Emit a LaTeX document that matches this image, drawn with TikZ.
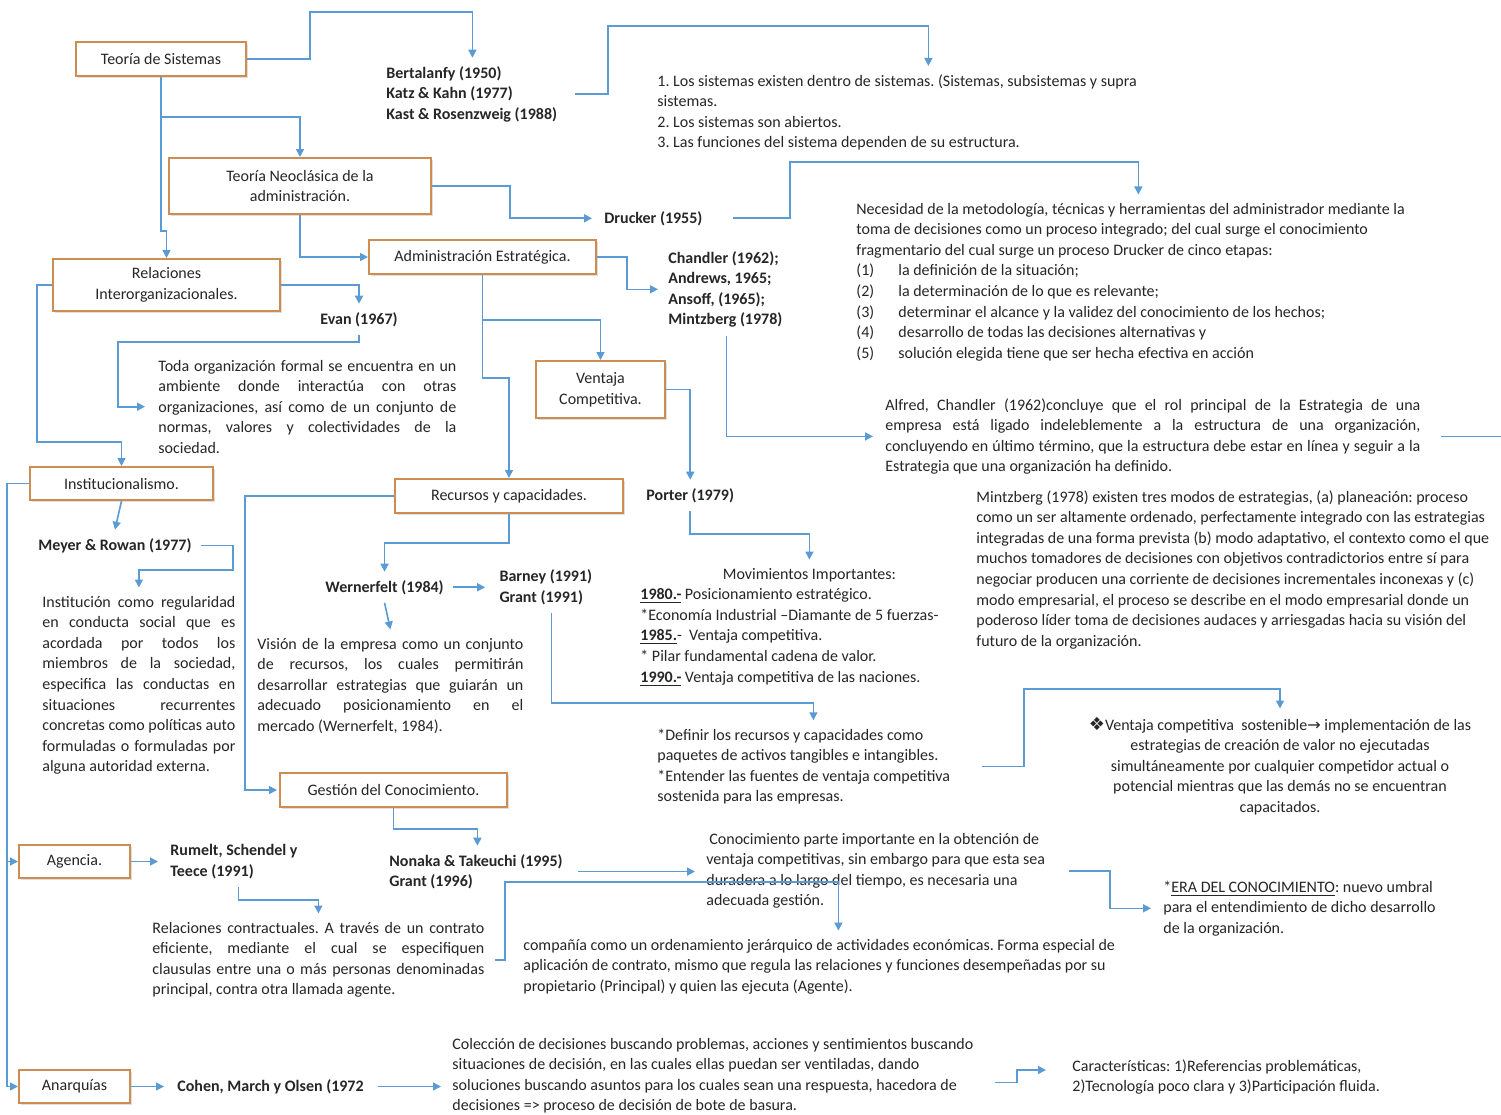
\documentclass[tikz,border=0pt]{standalone}
\usepackage{fontspec}
\setmainfont{Carlito}
\newfontfamily\simbolos{DejaVu Sans}
\usetikzlibrary{positioning,arrows.meta,shadows}
\frenchspacing

\definecolor{azul}{RGB}{91,155,213}
\definecolor{naranja}{RGB}{204,140,82}
\definecolor{tinta}{RGB}{38,38,38}

\newcommand{\letra}{\fontsize{8}{10.3}\selectfont}
\newcommand{\jl}[1]{\makebox[\hsize][s]{\spaceskip=0pt\xspaceskip=0pt #1}\\}

\tikzset{
	caja/.style={draw=naranja, line width=1pt, fill=white, align=flush center, inner sep=2pt,
		font=\letra, text=tinta,
		drop shadow={shadow xshift=0.8pt, shadow yshift=-0.8pt, opacity=0.25}},
	autor/.style={font=\letra\bfseries, text=tinta, align=flush left, inner xsep=0pt, inner ysep=4pt},
	texto/.style={font=\letra, text=tinta, align=flush left, inner xsep=0pt, inner ysep=4pt, anchor=base west},
	link/.style={draw=azul, line width=0.8pt, -{Triangle[length=4pt,width=4pt]}},
	linea/.style={draw=azul, line width=0.8pt},
}

\begin{document}
\begin{tikzpicture}[x=0.5pt, y=-0.5pt]
	\fill[white] (0,0) rectangle (1501,1115);
	\useasboundingbox (0,0) rectangle (1501,1115);
	%% cajas
	\node[caja, minimum width=85pt, minimum height=17pt] (sis) at (161,59) {Teoría de Sistemas};
	\node[caja, minimum width=131pt, minimum height=28pt] (neo) at (300,186) {Teoría Neoclásica de la\\administración.};
	\node[caja, minimum width=113.5pt, minimum height=17pt] (adm) at (482.5,257) {Administración Estratégica.};
	\node[caja, minimum width=113.5pt, minimum height=26pt] (rel) at (166.5,285) {Relaciones\\Interorganizacionales.};
	\node[caja, minimum width=64.5pt, minimum height=28.5pt] (ven) at (600.5,389.5) {Ventaja\\Competitiva.};
	\node[caja, minimum width=91.5pt, minimum height=16.5pt] (ins) at (121.5,483.5) {Institucionalismo.};
	\node[caja, minimum width=114pt, minimum height=17pt] (rec) at (509,496) {Recursos y capacidades.};
	\node[caja, minimum width=113.5pt, minimum height=17pt] (ges) at (393.5,790) {Gestión del Conocimiento.};
	\node[caja, minimum width=55.5pt, minimum height=16.5pt] (age) at (74.5,861.5) {Agencia.};
	\node[caja, minimum width=55.5pt, minimum height=16.5pt] (ana) at (74.5,1086.5) {Anarquías};

	%% autores
	\node[autor, text width=86pt, anchor=base west] (bert) at (386,78) {Bertalanfy (1950)\\Katz \& Kahn (1977)\\Kast \& Rosenzweig (1988)};
	\node[autor, anchor=base west] (dru) at (604,223) {Drucker (1955)};
	\node[autor, text width=58pt, anchor=base west] (cha) at (668,263) {Chandler (1962);\\Andrews, 1965;\\Ansoff, (1965);\\Mintzberg (1978)};
	\node[autor, anchor=base west] (eva) at (320,324) {Evan (1967)};
	\node[autor, anchor=base west] (por) at (646,500) {Porter (1979)};
	\node[autor, anchor=base west] (mey) at (38,550) {Meyer \& Rowan (1977)};
	\node[autor, anchor=base west] (wer) at (325,592) {Wernerfelt (1984)};
	\node[autor, text width=52pt, right=27.5pt of wer] (bar) {Barney (1991)\\Grant (1991)};
	\node[autor, text width=68pt, right=19.5pt of age] (rum) {Rumelt, Schendel y\\Teece (1991)};
	\node[autor, text width=88pt, anchor=base west] (non) at (389,866) {Nonaka \& Takeuchi (1995)\\Grant (1996)};
	\node[autor, right=23pt of ana] (coh) {Cohen, March y Olsen (1972};

	%% textos
	\node[texto, text width=271pt] (lst) at (657,86) {1. Los sistemas existen dentro de sistemas. (Sistemas, subsistemas y supra\\sistemas.\\2. Los sistemas son abiertos.\\3. Las funciones del sistema dependen de su estructura.};
	\node[texto, text width=282pt] (nec) at (856,214) {Necesidad de la metodología, técnicas y herramientas del administrador mediante la\\
		toma de decisiones como un proceso integrado; del cual surge el conocimiento\\
		fragmentario del cual surge un proceso Drucker de cinco etapas:\\
		\makebox[21pt][l]{(1)}la definición de la situación;\\
		\makebox[21pt][l]{(2)}la determinación de lo que es relevante;\\
		\makebox[21pt][l]{(3)}determinar el alcance y la validez del conocimiento de los hechos;\\
		\makebox[21pt][l]{(4)}desarrollo de todas las decisiones alternativas y\\
		\makebox[21pt][l]{(5)}solución elegida tiene que ser hecha efectiva en acción};
	\node[texto, text width=149pt] (tod) at (158,371) {\jl{Toda organización formal se encuentra en un}
		\jl{ambiente donde interactúa con otras}
		\jl{organizaciones, así como de un conjunto de}
		\jl{normas, valores y colectividades de la}
		sociedad.};
	\node[texto, text width=267.5pt] (alf) at (885,410) {\jl{Alfred, Chandler (1962)concluye que el rol principal de la Estrategia de una}
		\jl{empresa está ligado indeleblemente a la estructura de una organización,}
		\jl{concluyendo en último término, que la estructura debe estar en línea y seguir a la}
		Estrategia que una organización ha definido.};
	\node[texto, text width=262pt] (min) at (976,502) {Mintzberg (1978) existen tres modos de estrategias, (a) planeación: proceso\\
		como un ser altamente ordenado, perfectamente integrado con las estrategias\\
		integradas de una forma prevista (b) modo adaptativo, el contexto como el que\\
		muchos tomadores de decisiones con objetivos contradictorios entre sí para\\
		negociar producen una corriente de decisiones incrementales inconexas y (c)\\
		modo empresarial, el proceso se describe en el modo empresarial donde un\\
		poderoso líder toma de decisiones audaces y arriesgadas hacia su visión del\\
		futuro de la organización.};
	\node[texto, text width=96.5pt] (itx) at (42,607) {\jl{Institución como regularidad}
		\jl{en conducta social que es}
		\jl{acordada por todos los}
		\jl{miembros de la sociedad,}
		\jl{especifica las conductas en}
		\jl{situaciones recurrentes}
		\jl{concretas como políticas auto}
		\jl{formuladas o formuladas por}
		alguna autoridad externa.};
	\node[texto, text width=169pt] (mov) at (640,579) {\makebox[\hsize]{Movimientos Importantes:}\\
		\underline{\textbf{1980.-}} Posicionamiento estratégico.\\
		{*}Economía Industrial –Diamante de 5 fuerzas-\\
		\underline{\textbf{1985.}}- \ Ventaja competitiva.\\
		{*} Pilar fundamental cadena de valor.\\
		\underline{\textbf{1990.-}} Ventaja competitiva de las naciones.};
	\node[texto, text width=133pt] (vis) at (257,649) {\jl{Visión de la empresa como un conjunto}
		\jl{de recursos, los cuales permitirán}
		\jl{desarrollar estrategias que guiarán un}
		\jl{adecuado posicionamiento en el}
		mercado (Wernerfelt, 1984).};
	\node[texto, text width=156pt] (def) at (657,740) {*Definir los recursos y capacidades como\\
		paquetes de activos tangibles e intangibles.\\
		{*}Entender las fuentes de ventaja competitiva\\
		sostenida para las empresas.};
	\node[texto, text width=200pt, align=flush center, anchor=base] (sos) at (1280,730) {{\simbolos\small ❖}Ventaja competitiva \ sostenible{\simbolos →} implementación de las\\
		estrategias de creación de valor no ejecutadas\\
		simultáneamente por cualquier competidor actual o\\
		potencial mientras que las demás no se encuentran\\
		capacitados.};
	\node[texto, text width=175pt] (con) at (706,844) {\hspace*{1.5pt}Conocimiento parte importante en la obtención de\\
		ventaja competitivas, sin embargo para que esta sea\\
		duradera a lo largo del tiempo, es necesaria una\\
		adecuada gestión.};
	\node[texto, text width=150pt] (era) at (1163,892) {*\underline{ERA DEL CONOCIMIENTO}: nuevo umbral\\
		para el entendimiento de dicho desarrollo\\
		de la organización.};
	\node[texto, text width=166pt] (rct) at (152,933) {\jl{Relaciones contractuales. A través de un contrato}
		\jl{eficiente, mediante el cual se especifiquen}
		\jl{clausulas entre una o más personas denominadas}
		principal, contra otra llamada agente.};
	\node[texto, text width=315pt] (cmp) at (523,950) {compañía como un ordenamiento jerárquico de actividades económicas. Forma especial de\\
		aplicación de contrato, mismo que regula las relaciones y funciones desempeñadas por su\\
		propietario (Principal) y quien las ejecuta (Agente).};
	\node[texto, text width=262pt] (col) at (452,1049) {Colección de decisiones buscando problemas, acciones y sentimientos buscando\\
		situaciones de decisión, en las cuales ellas puedan ser ventiladas, dando\\
		soluciones buscando asuntos para los cuales sean una respuesta, hacedora de\\
		decisiones => proceso de decisión de bote de basura.};
	\node[texto, text width=160pt] (car) at (1072,1071) {Características: 1)Referencias problemáticas,\\
		2)Tecnología poco clara y 3)Participación fluida.};

	%% conectores
	\draw[link] (sis.east) -| (310,12) -| (bert.north);
	\draw[link, shorten <=8pt] (bert.east) -| (608,26) -| (lst.north);
	\draw[link] (sis.south) |- (neo.north |- 0,117) -- (neo.north);
	\draw[link] (sis.south) -- ++(0,154) -| (rel.north);
	\draw[link, shorten >=6pt] (neo.east) -| (510,0 |- dru.west) -- (dru.west);
	\draw[link] (neo.south) |- (adm.west);
	\draw[link, shorten <=15pt] (dru.east) -| (790,162) -| (nec.north);
	\draw[link, shorten >=5pt] (adm.east) -| (627,0 |- cha.west) -- (cha.west);
	\draw[link] (adm.south) |- (ven.north |- 0,320) -- (ven.north);
	\draw[link] (adm.south) -- ++(0,103) -| (rec.north);
	\draw[link, shorten >=6pt] (cha.south) |- (alf.west);
	\coordinate (borde) at (1501,436);
	\draw[linea, shorten <=10pt] (alf.east) -- (alf.east -| borde);
	\draw[link] (ven.east) -| (por.north);
	\draw[link] (por.south) -- ++(0,23) -| (mov.north);
	% lado izquierdo
	\draw[link] (rel.east) -| (eva.north);
	\draw[link, shorten >=6.5pt] (eva.south) |- (118,342) |- (tod.west);
	\draw[link] (rel.west) -| (37,442) -| (ins.north);
	\draw[link] (ins.south) -- (mey.north);
	\draw[link, shorten <=4.5pt] (mey.east) -| (233,570) -| (itx.north);
	\draw[link] (ins.west) -| (7,0 |- ana.west) -- (ana.west);
	\draw[link] (7,0 |- age.west) -- (age.west);
	% recursos
	\draw[link, shorten >=1pt] (rec.west) -| (245,0 |- ges.west) -- (ges.west);
	\draw[link] (rec.south) -- ++(0,29) -| (wer.north);
	\draw[link, shorten <=4.5pt, shorten >=7pt] (wer.east) -- (wer.east -| bar.west);
	\draw[link] (wer.south) -- (vis.north);
	\draw[link] (bar.south) |- (def.north |- 0,703) -- (def.north);
	\draw[link, shorten <=6pt] (def.east) -| (1024,689) -| (sos.north);
	% conocimiento y agencia
	\draw[link] (ges.south) -- ++(0,21) -| (non.north);
	\draw[link, shorten <=6pt, shorten >=5.5pt] (non.east) -- (non.east -| con.west);
	\draw[link, shorten <=5pt] (rct.east) -| (505,882) -| (cmp.north);
	\draw[link, shorten <=6pt, shorten >=6pt] (con.east) -| (1110,0 |- era.west) -- (era.west);
	\draw[link, shorten >=6pt] (age.east) -- (rum.west);
	\draw[link] (rum.south) |- (318,900) -| (rct.north);
	% anarquias
	\draw[link, shorten >=6.5pt] (ana.east) -- (coh.west);
	\draw[link, shorten <=7pt, shorten >=5.5pt] (coh.east) -- (coh.east -| col.west);
	\draw[link, shorten <=9pt, shorten >=13pt] ([yshift=-3.5pt]col.east) -| (1017,1070) -- (1017,1070 -| car.west);
\end{tikzpicture}
\end{document}
